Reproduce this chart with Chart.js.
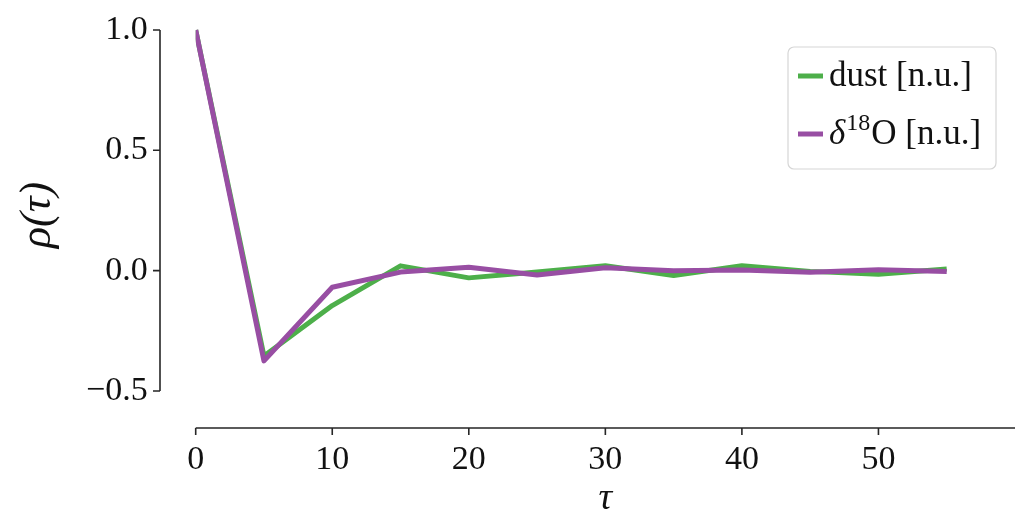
<!DOCTYPE html>
<html>
<head>
<meta charset="utf-8">
<script src="https://cdn.jsdelivr.net/npm/chart.js@4.4.1/dist/chart.umd.min.js"></script>
<style>
  html, body { margin: 0; padding: 0; background: #fff; }
  #wrap { width: 1033px; height: 530px; position: relative; }
</style>
</head>
<body>
<div id="wrap"><canvas id="c" width="1033" height="530"></canvas></div>
<script>
// ---- data ----
const tau = [0, 5, 10, 15, 20, 25, 30, 35, 40, 45, 50, 55];
const dust = [1.0, -0.355, -0.145, 0.02, -0.03, -0.006, 0.02, -0.02, 0.02, -0.003, -0.015, 0.007];
const d18O = [1.0, -0.375, -0.069, -0.006, 0.014, -0.018, 0.012, 0.0, 0.003, -0.007, 0.004, -0.004];
const xTicks = [0, 10, 20, 30, 40, 50];
const yTicks = [-0.5, 0.0, 0.5, 1.0];
const seriesNames = ['dust [n.u.]', 'δ18O [n.u.]'];
const seriesColors = ['#4daf4a', '#984ea3'];

const FONT = '"Liberation Serif", "DejaVu Serif", serif';

const spinePlugin = {
  id: 'spines',
  afterDraw(chart) {
    const ctx = chart.ctx;
    const xs = chart.scales.x, ys = chart.scales.y;
    ctx.save();
    ctx.strokeStyle = '#262626';
    ctx.lineWidth = 1.6;
    // left spine (offset, trimmed to ticks)
    const sx = 160;
    const yTop = ys.getPixelForValue(yTicks[yTicks.length - 1]);
    const yBot = ys.getPixelForValue(yTicks[0]);
    ctx.beginPath();
    ctx.moveTo(sx, yTop); ctx.lineTo(sx, yBot);
    yTicks.forEach(v => { const p = ys.getPixelForValue(v); ctx.moveTo(sx, p); ctx.lineTo(sx - 7, p); });
    ctx.stroke();
    // bottom spine (offset)
    const sy = 428;
    ctx.beginPath();
    ctx.moveTo(xs.getPixelForValue(0), sy); ctx.lineTo(xs.getPixelForValue(xs.max), sy);
    xTicks.forEach(v => { const p = xs.getPixelForValue(v); ctx.moveTo(p, sy); ctx.lineTo(p, sy + 7); });
    ctx.stroke();

    // legend box
    const bx = 788, by = 47, bw = 208, bh = 122, r = 6;
    ctx.fillStyle = 'rgba(255,255,255,0.85)';
    ctx.strokeStyle = '#d6d6d6';
    ctx.lineWidth = 1.2;
    ctx.beginPath();
    ctx.roundRect(bx, by, bw, bh, r);
    ctx.fill(); ctx.stroke();
    const rows = [77, 135];
    chart.data.datasets.forEach((ds, i) => {
      const yy = rows[i];
      ctx.strokeStyle = ds.borderColor;
      ctx.lineWidth = 5;
      ctx.beginPath(); ctx.moveTo(798, yy - 1); ctx.lineTo(823, yy - 1); ctx.stroke();
      ctx.fillStyle = '#111';
      ctx.textBaseline = 'middle';
      ctx.textAlign = 'left';
      if (i === 0) {
        ctx.font = '35px ' + FONT;
        ctx.fillText(ds.label, 829, yy);
      } else {
        let x = 829;
        ctx.font = 'italic 35px ' + FONT;
        ctx.fillText('δ', x, yy); x += ctx.measureText('δ').width + 1;
        ctx.font = '24px ' + FONT;
        ctx.fillText('18', x, yy - 11); x += ctx.measureText('18').width + 1;
        ctx.font = '35px ' + FONT;
        ctx.fillText('O [n.u.]', x, yy);
      }
    });
    ctx.restore();
  }
};

new Chart(document.getElementById('c'), {
  type: 'line',
  data: {
    datasets: [
      { label: seriesNames[0], data: tau.map((t, i) => ({ x: t, y: dust[i] })), borderColor: seriesColors[0], backgroundColor: seriesColors[0], borderWidth: 5, pointRadius: 0, tension: 0, order: 1, borderJoinStyle: 'round' },
      { label: seriesNames[1], data: tau.map((t, i) => ({ x: t, y: d18O[i] })), borderColor: seriesColors[1], backgroundColor: seriesColors[1], borderWidth: 5, pointRadius: 0, tension: 0, order: 0, borderJoinStyle: 'round' }
    ]
  },
  options: {
    responsive: false,
    animation: false,
    devicePixelRatio: 1,
    layout: { padding: { top: 20, right: 18, bottom: 0, left: 0 } },
    plugins: { legend: { display: false }, tooltip: { enabled: false } },
    scales: {
      x: {
        type: 'linear', min: 0, max: 60,
        afterBuildTicks: s => { s.ticks = xTicks.map(v => ({ value: v })); },
        afterFit: s => { s.height = 120; s.paddingLeft = 0; s.paddingRight = 0; },
        grid: { display: false, drawTicks: false },
        border: { display: false },
        ticks: { font: { family: FONT, size: 34 }, color: '#111', padding: 30, maxRotation: 0 },
        title: { display: true, text: 'τ', font: { family: FONT, size: 38, style: 'italic' }, color: '#111', padding: { top: 0, bottom: 8 } }
      },
      y: {
        type: 'linear', min: -0.579, max: 1.0415,
        afterBuildTicks: s => { s.ticks = yTicks.map(v => ({ value: v })); },
        afterFit: s => { s.width = 195.7; s.paddingTop = 0; s.paddingBottom = 0; },
        grid: { display: false, drawTicks: false },
        border: { display: false },
        ticks: { font: { family: FONT, size: 34 }, color: '#111', padding: 48, callback: v => (v < 0 ? '−' : '') + Math.abs(v).toFixed(1) },
        title: { display: true, text: 'ρ(τ)', font: { family: FONT, size: 44, style: 'italic' }, color: '#111', padding: { top: 12, bottom: 0 } }
      }
    }
  },
  plugins: [spinePlugin]
});
</script>
</body>
</html>
